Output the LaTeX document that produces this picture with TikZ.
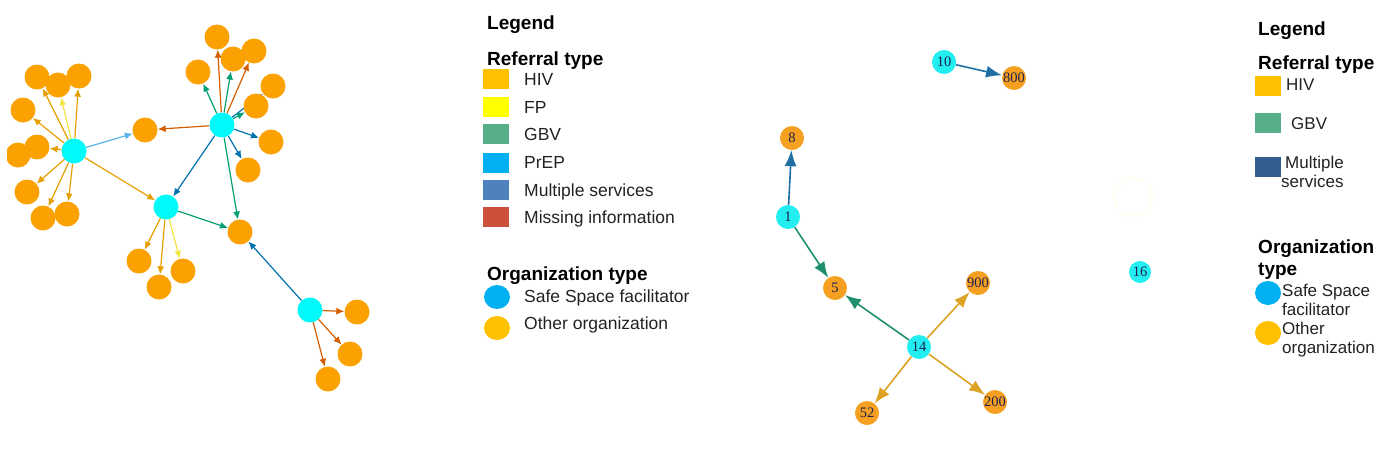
\documentclass[tikz,border=0pt]{standalone}
\usepackage{fontspec}
\setmainfont{Liberation Sans}
\newfontfamily\lblfont{Liberation Serif}
\usetikzlibrary{arrows.meta,shapes.geometric}
\pgfdeclarelayer{bg}
\pgfsetlayers{bg,main}
\definecolor{norange}{HTML}{FBA202}
\definecolor{ncyan}{HTML}{00FAFA}
\definecolor{eHIV}{HTML}{E69F00}
\definecolor{eFP}{HTML}{F0E442}
\definecolor{eGBV}{HTML}{009E73}
\definecolor{ePrEP}{HTML}{56B4E9}
\definecolor{eMult}{HTML}{0072B2}
\definecolor{eMiss}{HTML}{D55E00}
\definecolor{lHIV}{HTML}{FFC000}
\definecolor{lFP}{HTML}{FFFF00}
\definecolor{lGBV}{HTML}{55AE85}
\definecolor{lPrEP}{HTML}{00B0F0}
\definecolor{lMult}{HTML}{4F81BD}
\definecolor{lMiss}{HTML}{CD503C}
\definecolor{lMultB}{HTML}{335C8F}
\definecolor{rorange}{HTML}{F5A021}
\definecolor{rcyan}{HTML}{22EEF2}
\definecolor{rblue}{HTML}{1F6FA5}
\definecolor{rgreen}{HTML}{1F8F70}
\definecolor{rgold}{HTML}{DCA325}
\definecolor{rtext}{HTML}{1E2050}
\definecolor{ltext}{HTML}{222222}
\tikzset{
  org/.style={circle, fill=norange, minimum size=25pt, inner sep=0pt},
  ssf/.style={circle, fill=ncyan, minimum size=25pt, inner sep=0pt},
  lnk/.style={line width=1.2pt, -{Latex[length=8pt,width=7pt]}},
  rorg/.style={circle, fill=rorange, minimum size=24pt, inner sep=0pt, text=rtext, font=\lblfont\fontsize{14.5}{14.5}\selectfont},
  rssf/.style={circle, fill=rcyan, minimum size=24pt, inner sep=0pt, text=rtext, font=\lblfont\fontsize{14.5}{14.5}\selectfont},
  rlnk/.style={line width=1.6pt, -{Latex[length=16pt,width=12pt]}},
  head/.style={anchor=base west, inner sep=0pt, font=\bfseries\fontsize{19}{21}\selectfont},
  ltxt/.style={anchor=base west, inner sep=0pt, text=ltext, font=\fontsize{17.5}{19}\selectfont},
  rtxt/.style={anchor=base west, inner sep=0pt, text=ltext, font=\fontsize{17}{19}\selectfont},
  lsq/.style={rectangle, minimum width=26pt, minimum height=20pt, inner sep=0pt},
  lcirc/.style={ellipse, minimum width=26pt, minimum height=24pt, inner sep=0pt},
}
\begin{document}
\begin{tikzpicture}[x=1pt,y=-1pt]
\useasboundingbox (0,0) rectangle (1388,466);
% ---------- left network ----------
\begin{scope}
\clip (7,0) rectangle (470,466);
\node[org] (a6) at (18,155) {};
\node[org] (a5) at (37,147) {};
\node[org] (a1) at (37,77) {};
\node[org] (a3) at (79,76) {};
\node[org] (a2) at (58,85) {};
\node[org] (a4) at (23,110) {};
\node[org] (a7) at (27,192) {};
\node[org] (a8) at (43,218) {};
\node[org] (a9) at (67,214) {};
\node[org] (m) at (145,130) {};
\node[org] (b1) at (217,37) {};
\node[org] (b2) at (198,72) {};
\node[org] (b4) at (254,51) {};
\node[org] (b3) at (233,59) {};
\node[org] (b5) at (273,86) {};
\node[org] (b6) at (256,106) {};
\node[org] (b7) at (271,142) {};
\node[org] (b8) at (248,170) {};
\node[org] (g) at (240,232) {};
\node[org] (c1) at (139,261) {};
\node[org] (c2) at (159,287) {};
\node[org] (c3) at (183,271) {};
\node[org] (d1) at (357,312) {};
\node[org] (d2) at (350,354) {};
\node[org] (d3) at (328,379) {};
\node[ssf] (A) at (74,151) {};
\node[ssf] (B) at (222,125) {};
\node[ssf] (C) at (166,207) {};
\node[ssf] (D) at (310,310) {};
\begin{pgfonlayer}{bg}
\draw[lnk, eHIV] (A) -- (a1);
\draw[lnk, eFP] (A) -- (a2);
\draw[lnk, eHIV] (A) -- (a3);
\draw[lnk, eHIV] (A) -- (a4);
\draw[lnk, eHIV] (A) -- (a5);
\draw[lnk, eHIV] (A) -- (a7);
\draw[lnk, eHIV] (A) -- (a8);
\draw[lnk, eHIV] (A) -- (a9);
\draw[lnk, ePrEP] (A) -- (m);
\draw[lnk, eHIV] (A) -- (C);
\draw[lnk, eMiss] (B) -- (b1);
\draw[lnk, eGBV] (B) -- (b2);
\draw[lnk, eGBV] (B) -- (b3);
\draw[lnk, eMiss] (B) -- (b4);
\draw[lnk, eMult] (B) -- (b5);
\draw[lnk, eGBV] (B) -- (b6);
\draw[lnk, eMult] (B) -- (b7);
\draw[lnk, eMult] (B) -- (b8);
\draw[lnk, eMiss] (B) -- (m);
\draw[lnk, eGBV] (B) -- (g);
\draw[lnk, eMult] (B) -- (C);
\draw[lnk, eGBV] (C) -- (g);
\draw[lnk, eHIV] (C) -- (c1);
\draw[lnk, eHIV] (C) -- (c2);
\draw[lnk, eFP] (C) -- (c3);
\draw[lnk, eMult] (D) -- (g);
\draw[lnk, eMiss] (D) -- (d1);
\draw[lnk, eMiss] (D) -- (d2);
\draw[lnk, eMiss] (D) -- (d3);
\end{pgfonlayer}
\end{scope}
% ---------- left legend ----------
\node[head] (lg1) at (487,29) {Legend};
\node[head] (rt1) at (487,65) {Referral type};
\node[lsq, fill=lHIV] (s1) at (496,79) {};
\node[lsq, fill=lFP] (s2) at (496,107) {};
\node[lsq, fill=lGBV] (s3) at (496,134) {};
\node[lsq, fill=lPrEP] (s4) at (496,163) {};
\node[lsq, fill=lMult] (s5) at (496,190) {};
\node[lsq, fill=lMiss] (s6) at (496,217) {};
\node[ltxt] (t1) at (524,85) {HIV};
\node[ltxt] (t2) at (524,113) {FP};
\node[ltxt] (t3) at (524,140) {GBV};
\node[ltxt] (t4) at (524,168) {PrEP};
\node[ltxt] (t5) at (524,196) {Multiple services};
\node[ltxt] (t6) at (524,223) {Missing information};
\node[head] (ot1) at (487,280) {Organization type};
\node[lcirc, fill=lPrEP] (o1) at (497,297) {};
\node[lcirc, fill=lHIV] (o2) at (497,328) {};
\node[ltxt] (ot1a) at (524,302) {Safe Space facilitator};
\node[ltxt] (ot1b) at (524,329) {Other organization};
% ---------- right network ----------
\draw[yellow!4, line width=3pt] (1133,197) circle (19);
\node[rssf] (n10) at (944,62) {10};
\node[rorg] (n800) at (1014,78) {800};
\node[rorg] (n8) at (792,138) {8};
\node[rssf] (n1) at (788,217) {1};
\node[rorg] (n5) at (835,288) {5};
\node[rssf] (n14) at (919,347) {14};
\node[rorg] (n900) at (978,283) {900};
\node[rorg] (n200) at (995,402) {200};
\node[rorg] (n52) at (867,413) {52};
\node[rssf, minimum size=22pt] (n16) at (1140,272) {16};
\draw[rlnk, rblue] (n10) -- (n800);
\draw[rlnk, rblue] (n1) -- (n8);
\draw[rlnk, rgreen] (n1) -- (n5);
\draw[rlnk, rgreen] (n14) -- (n5);
\draw[rlnk, rgold] (n14) -- (n900);
\draw[rlnk, rgold] (n14) -- (n200);
\draw[rlnk, rgold] (n14) -- (n52);
% ---------- right legend ----------
\node[head] (lg2) at (1258,35) {Legend};
\node[head] (rt2) at (1258,69) {Referral type};
\node[lsq, fill=lHIV] (q1) at (1267.5,85.5) {};
\node[lsq, fill=lGBV] (q2) at (1267.5,123) {};
\node[lsq, fill=lMultB] (q3) at (1267.5,167) {};
\node[rtxt] (u1) at (1286,90) {HIV};
\node[rtxt] (u2) at (1291,129) {GBV};
\node[rtxt] (u3) at (1285,168) {Multiple};
\node[rtxt] (u3b) at (1281,187) {services};
\node[head] (ot2) at (1258,253) {Organization};
\node[head] (ot2b) at (1258,275) {type};
\node[lcirc, fill=lPrEP] (p1) at (1268,293) {};
\node[lcirc, fill=lHIV] (p2) at (1268,333) {};
\node[rtxt] (v1) at (1282,296) {Safe Space};
\node[rtxt] (v1b) at (1282,315) {facilitator};
\node[rtxt] (v2) at (1282,334) {Other};
\node[rtxt] (v2b) at (1282,353) {organization};
\end{tikzpicture}
\end{document}
